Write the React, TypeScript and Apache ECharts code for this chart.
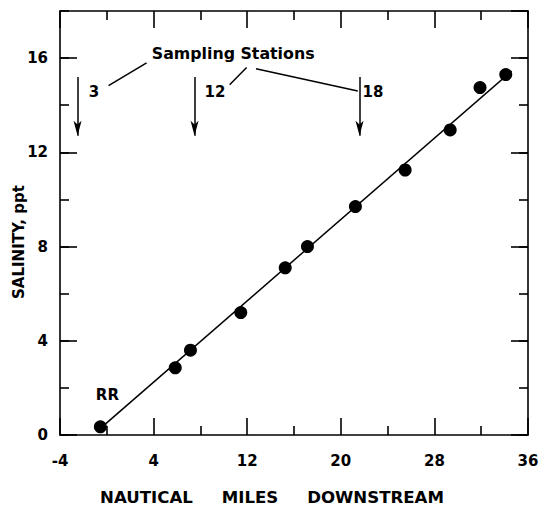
import React, { useEffect, useRef } from "react";
import * as echarts from "echarts";

// Measured salinity vs distance downstream
const distanceMiles = [-0.55, 5.85, 7.15, 11.45, 15.25, 17.15, 21.25, 25.5, 29.35, 31.9, 34.1];
const salinityPpt = [0.35, 2.85, 3.6, 5.2, 7.1, 8.0, 9.7, 11.25, 12.95, 14.75, 15.3];

// Fitted line end points
const fitX = [-0.5, 34.6];
const fitY = [0.3, 15.45];

// Sampling station arrows
const stationX = [-2.5, 7.5, 21.6];
const arrowTopY = 15.2;
const arrowBottomY = 12.7;

// Annotation texts (data coordinates)
const annotationText = ["Sampling Stations", "3", "12", "18", "RR"];
const annotationX = [10.8, -1.1, 9.25, 22.75, 0.05];
const annotationY = [16.2, 14.57, 14.57, 14.57, 1.68];
const annotationSize = [15.8, 15, 15, 15, 15];

// Leader lines from "Sampling Stations" to the station numbers
const leaderFromX = [0.15, 10.5, 12.75];
const leaderFromY = [14.83, 14.87, 15.55];
const leaderToX = [3.4, 11.95, 21.45];
const leaderToY = [15.8, 15.6, 14.6];

// Axis settings
const xMin = -4;
const xMax = 36;
const xStep = 8;
const yMin = 0;
const yMax = 18;
const yMajor = 4;
const yMinor = 2;

const INK = "#000";
const FONT = "DejaVu Sans";

export default function App() {
  const ref = useRef<HTMLDivElement>(null);

  useEffect(() => {
    document.body.style.margin = "0";
    if (!ref.current) return;
    const chart = echarts.init(ref.current, null, { renderer: "svg" });

    const lineStyle = { color: INK, width: 1.6 };
    const labelStyle = { fontFamily: FONT, fontWeight: "bold" as const, fontSize: 15, color: INK };

    const xBase = (position: "bottom" | "top", showLabel: boolean) => ({
      type: "value" as const,
      position,
      min: xMin,
      max: xMax,
      interval: xStep,
      axisLine: { show: true, onZero: false, lineStyle },
      axisTick: { show: true, inside: true, length: 17, lineStyle },
      minorTick: { show: true, splitNumber: 2, length: 9, lineStyle },
      splitLine: { show: false },
      minorSplitLine: { show: false },
      axisLabel: { show: showLabel, margin: 18, ...labelStyle },
    });

    const yBase = (position: "left" | "right", interval: number, len: number, showLine: boolean, showLabel: boolean) => ({
      type: "value" as const,
      position,
      min: yMin,
      max: yMax,
      interval,
      axisLine: { show: showLine, onZero: false, lineStyle },
      axisTick: { show: true, inside: true, length: len, lineStyle },
      splitLine: { show: false },
      axisLabel: {
        show: showLabel,
        margin: 12,
        showMaxLabel: false,
        formatter: (v: number) => (v % yMajor === 0 ? String(v) : ""),
        ...labelStyle,
      },
    });

    const arrowLines = stationX.map((x) => [
      { coord: [x, arrowTopY], symbol: "none" },
      { coord: [x, arrowBottomY], symbol: "arrow", symbolSize: [6, 15] },
    ]);
    const leaderLines = leaderFromX.map((x, i) => [
      { coord: [x, leaderFromY[i]], symbol: "none" },
      { coord: [leaderToX[i], leaderToY[i]], symbol: "none" },
    ]);

    chart.setOption({
      animation: false,
      backgroundColor: "#fff",
      grid: { left: 60, right: 13, top: 11, bottom: 73, containLabel: false, outerBoundsMode: "none" },
      xAxis: [
        {
          ...xBase("bottom", true),
          name: "NAUTICAL     MILES     DOWNSTREAM",
          nameLocation: "middle",
          nameGap: 54,
          nameMoveOverlap: false,
          nameTextStyle: { fontFamily: FONT, fontWeight: "bold", fontSize: 16.6, color: INK, padding: [0, 44, 0, 0] },
        },
        xBase("top", false),
      ],
      yAxis: [
        {
          ...yBase("left", yMajor, 17, true, true),
          name: "SALINITY, ppt",
          nameLocation: "middle",
          nameGap: 34,
          nameMoveOverlap: false,
          nameTextStyle: { fontFamily: FONT, fontWeight: "bold", fontSize: 15, color: INK, padding: [0, 38, 0, 0] },
        },
        yBase("left", yMinor, 9, false, false),
        yBase("right", yMajor, 17, true, false),
        yBase("right", yMinor, 9, false, false),
      ],
      series: [
        {
          name: "Fit",
          type: "line",
          data: fitX.map((x, i) => [x, fitY[i]]),
          symbol: "none",
          lineStyle: { color: INK, width: 1.5 },
          silent: true,
          markLine: {
            silent: true,
            animation: false,
            label: { show: false },
            lineStyle: { color: INK, width: 1.5, type: "solid", opacity: 1 },
            emphasis: { disabled: true },
            data: [...arrowLines, ...leaderLines],
          },
        },
        {
          name: "Salinity",
          type: "scatter",
          data: distanceMiles.map((x, i) => [x, salinityPpt[i]]),
          symbol: "circle",
          symbolSize: 13,
          itemStyle: { color: INK, opacity: 1 },
          silent: true,
        },
        {
          name: "Annotations",
          type: "scatter",
          symbolSize: 0,
          silent: true,
          itemStyle: { opacity: 1, color: INK },
          data: annotationText.map((t, i) => ({
            name: t,
            value: [annotationX[i], annotationY[i]],
            label: { fontSize: annotationSize[i] },
          })),
          label: {
            show: true,
            position: "inside",
            formatter: (p: any) => p.name,
            fontFamily: FONT,
            fontWeight: "bold",
            fontSize: 15,
            color: INK,
            opacity: 1,
          },
        },
      ],
    });

    return () => chart.dispose();
  }, []);

  return <div ref={ref} style={{ width: 541, height: 508 }} />;
}
